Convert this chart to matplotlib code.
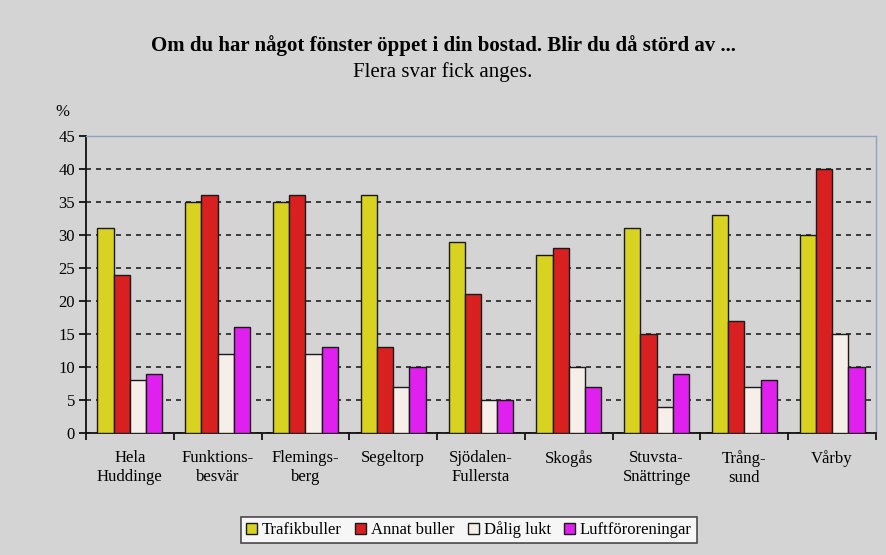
import matplotlib.pyplot as plt
import numpy as np

plt.rcParams["font.family"] = ["Liberation Serif", "DejaVu Serif"]

categories = ["Hela\nHuddinge", "Funktions-\nbesvär", "Flemings-\nberg", "Segeltorp",
              "Sjödalen-\nFullersta", "Skogås", "Stuvsta-\nSnättringe", "Trång-\nsund", "Vårby"]
series = ["Trafikbuller", "Annat buller", "Dålig lukt", "Luftföroreningar"]
trafikbuller = [31, 35, 35, 36, 29, 27, 31, 33, 30]
annat_buller = [24, 36, 36, 13, 21, 28, 15, 17, 40]
dalig_lukt = [8, 12, 12, 7, 5, 10, 4, 7, 15]
luftfororeningar = [9, 16, 13, 10, 5, 7, 9, 8, 10]
colors = ["#d8d220", "#d82020", "#f5eee9", "#e020ee"]

BG = "#d4d4d4"

fig = plt.figure(figsize=(8.86, 5.55), dpi=100, facecolor=BG)
ax = fig.add_axes([86 / 886, 1 - 433 / 555, 790 / 886, 297 / 555])
ax.set_facecolor(BG)

x = np.arange(len(categories))
w = 0.185
values = [trafikbuller, annat_buller, dalig_lukt, luftfororeningar]
for i, (vals, name, col) in enumerate(zip(values, series, colors)):
    ax.bar(x + (i - 1.5) * w, vals, width=w, color=col, edgecolor="#1a1a1a",
           linewidth=1.0, label=name, zorder=3)

ax.set_xlim(-0.5, len(categories) - 0.5)
ax.set_ylim(0, 45)
ax.set_yticks(range(0, 46, 5))
ax.yaxis.grid(True, linestyle=(0, (3, 3)), color="#222222", linewidth=1.2, zorder=1)
ax.set_xticks(x)
ax.set_xticklabels(categories, fontsize=12, linespacing=1.3)
ax.set_xticks(np.arange(-0.5, len(categories)), minor=True)
ax.tick_params(axis="x", which="major", length=0, pad=12)
ax.tick_params(axis="x", which="minor", length=5, width=1.2, direction="out")
ax.tick_params(axis="y", length=5, width=1.2, labelsize=12, pad=3)
for side in ["left", "bottom"]:
    ax.spines[side].set_linewidth(1.3)
    ax.spines[side].set_color("#111111")
for side in ["top", "right"]:
    ax.spines[side].set_color("#8fa3bf")
    ax.spines[side].set_linewidth(1.0)

fig.text(0.5, 1 - 46 / 555, "Om du har något fönster öppet i din bostad. Blir du då störd av ...",
         ha="center", va="center", fontsize=15, fontweight="bold")
fig.text(0.5, 1 - 72 / 555, "Flera svar fick anges.", ha="center", va="center", fontsize=15)
fig.text(62 / 886, 1 - 112 / 555, "%", ha="center", va="center", fontsize=12)

leg = fig.legend(loc="center", bbox_to_anchor=(469 / 886, 1 - 530 / 555), ncol=4,
                 fontsize=12, frameon=True, fancybox=False, handlelength=0.65,
                 handleheight=0.65, handletextpad=0.3, columnspacing=0.8,
                 borderpad=0.3, edgecolor="#222222")
leg.get_frame().set_facecolor("white")
leg.get_frame().set_linewidth(1.2)

fig.savefig("out.png", dpi=100, facecolor=BG)
